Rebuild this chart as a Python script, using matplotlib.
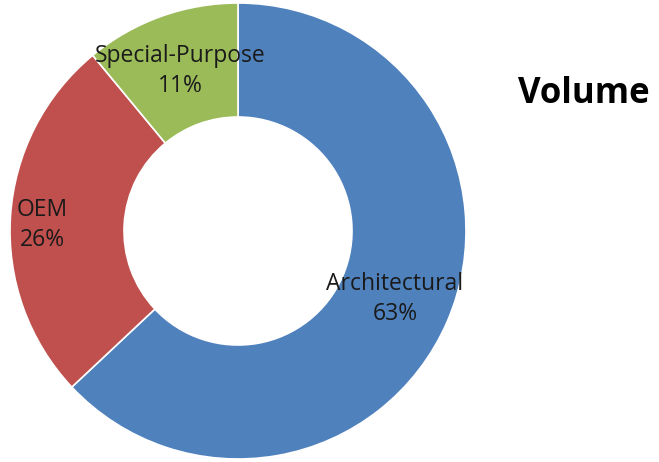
import numpy as np
import matplotlib.pyplot as plt

labels = ['Architectural', 'OEM', 'Special-Purpose']
shares = [63, 26, 11]
colors = ['#4F81BD', '#C0504D', '#9BBB59']
label_r = [0.75, 0.86, 0.745]
label_shift = [0, 1.8, 0]  # degrees

W, H = 659, 462
fig = plt.figure(figsize=(W / 100, H / 100), dpi=100)
cx, cy, R = 238, 231, 228
ax = fig.add_axes([(cx - R) / W, (H - cy - R) / H, 2 * R / W, 2 * R / H])

wedges, _ = ax.pie(shares, colors=colors, startangle=90, counterclock=False,
                   radius=1, wedgeprops=dict(width=0.5, edgecolor='white', linewidth=1.2))
ax.set_xlim(-1, 1)
ax.set_ylim(-1, 1)
ax.set_aspect('equal')
ax.axis('off')

for w, lab, s, r, d in zip(wedges, labels, shares, label_r, label_shift):
    ang = np.deg2rad((w.theta1 + w.theta2) / 2 + d)
    ax.text(r * np.cos(ang), r * np.sin(ang), f'{lab}\n{s}%', ha='center', va='center',
            fontsize=16.5, color='#1a1a1a', family='Open Sans', linespacing=1.3)

fig.text(518 / W, 1 - 94 / H, 'Volume', ha='left', va='center', fontsize=25,
         fontweight='bold', family='Open Sans')

fig.savefig('out.png', dpi=100)
